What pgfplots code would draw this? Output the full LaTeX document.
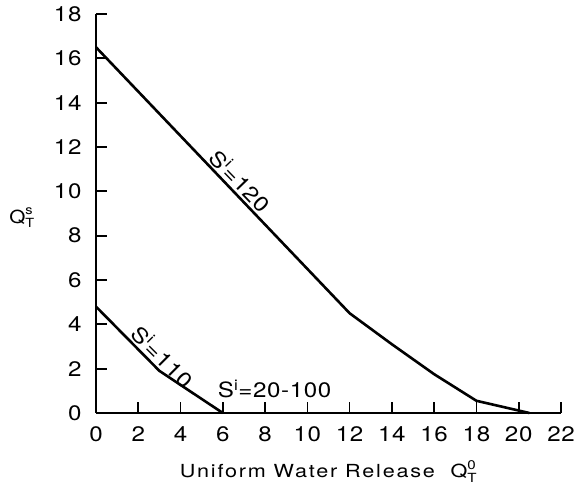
\documentclass[border=0pt]{standalone}
\usepackage{fontspec}
\setmainfont{TeX Gyre Heros}[FakeStretch=1.15, LetterSpace=3]
\newfontfamily\widelabel{TeX Gyre Heros}[FakeStretch=1.2, LetterSpace=10]
\usepackage{amsmath}
\usepackage{pgfplots}
\pgfplotsset{compat=1.18}

% Release curves for the two storage levels
\pgfplotstableread{
x     y
0     16.5
12    4.5
14    3.1
16    1.75
18    0.55
20.5  0
}\sOneTwenty
\pgfplotstableread{
x     y
0     4.8
3     1.9
6     0
}\sOneTen

\begin{document}
\begin{tikzpicture}[x=1pt,y=1pt]
\useasboundingbox (-96,-73) rectangle (486,413);
\begin{axis}[
  at={(0,0)}, anchor=south west,
  scale only axis, width=465pt, height=399pt,
  xmin=0, xmax=22, ymin=0, ymax=18,
  axis lines=left,
  axis line style={-, line width=2pt},
  tick align=inside,
  major tick length=11pt,
  tick style={line width=1.7pt, black},
  xtick={0,2,...,22}, ytick={0,2,...,18},
  /pgf/number format/assume math mode=true,
  tick label style={font=\fontsize{21}{24}\selectfont},
  xticklabel style={yshift=-10pt},
  yticklabel style={xshift=-11pt},
  xlabel={Uniform Water Release \ $\text{Q}^{\text{0}}_{\text{T}}$},
  xlabel style={at={(axis description cs:0.5,0)}, anchor=base, yshift=-65pt,
    font=\widelabel\fontsize{18}{22}\selectfont},
  ylabel={$\text{Q}^{\text{s}}_{\text{T}}$},
  ylabel style={at={(axis description cs:-0.159,0.49)}, anchor=center, rotate=-90,
    font=\fontsize{18}{22}\selectfont},
  clip=false,
]
\addplot[black, line width=2.6pt, line join=round] table[x=x, y=y] {\sOneTwenty};
\addplot[black, line width=2.6pt, line join=round] table[x=x, y=y] {\sOneTen};

\node[rotate=-46, anchor=south, inner sep=3pt, font=\fontsize{21}{24}\selectfont]
  at (axis cs:6.42,10.08) {S\textsuperscript{i}=120};
\node[rotate=-45, anchor=south, inner sep=3pt, font=\fontsize{21}{24}\selectfont]
  at (axis cs:2.74,2.15) {S\textsuperscript{i}=110};
\node[anchor=base west, inner sep=0pt, font=\fontsize{21}{24}\selectfont]
  at (axis cs:5.76,0.68) {S\textsuperscript{i}=20-100};
\end{axis}
\end{tikzpicture}
\end{document}
